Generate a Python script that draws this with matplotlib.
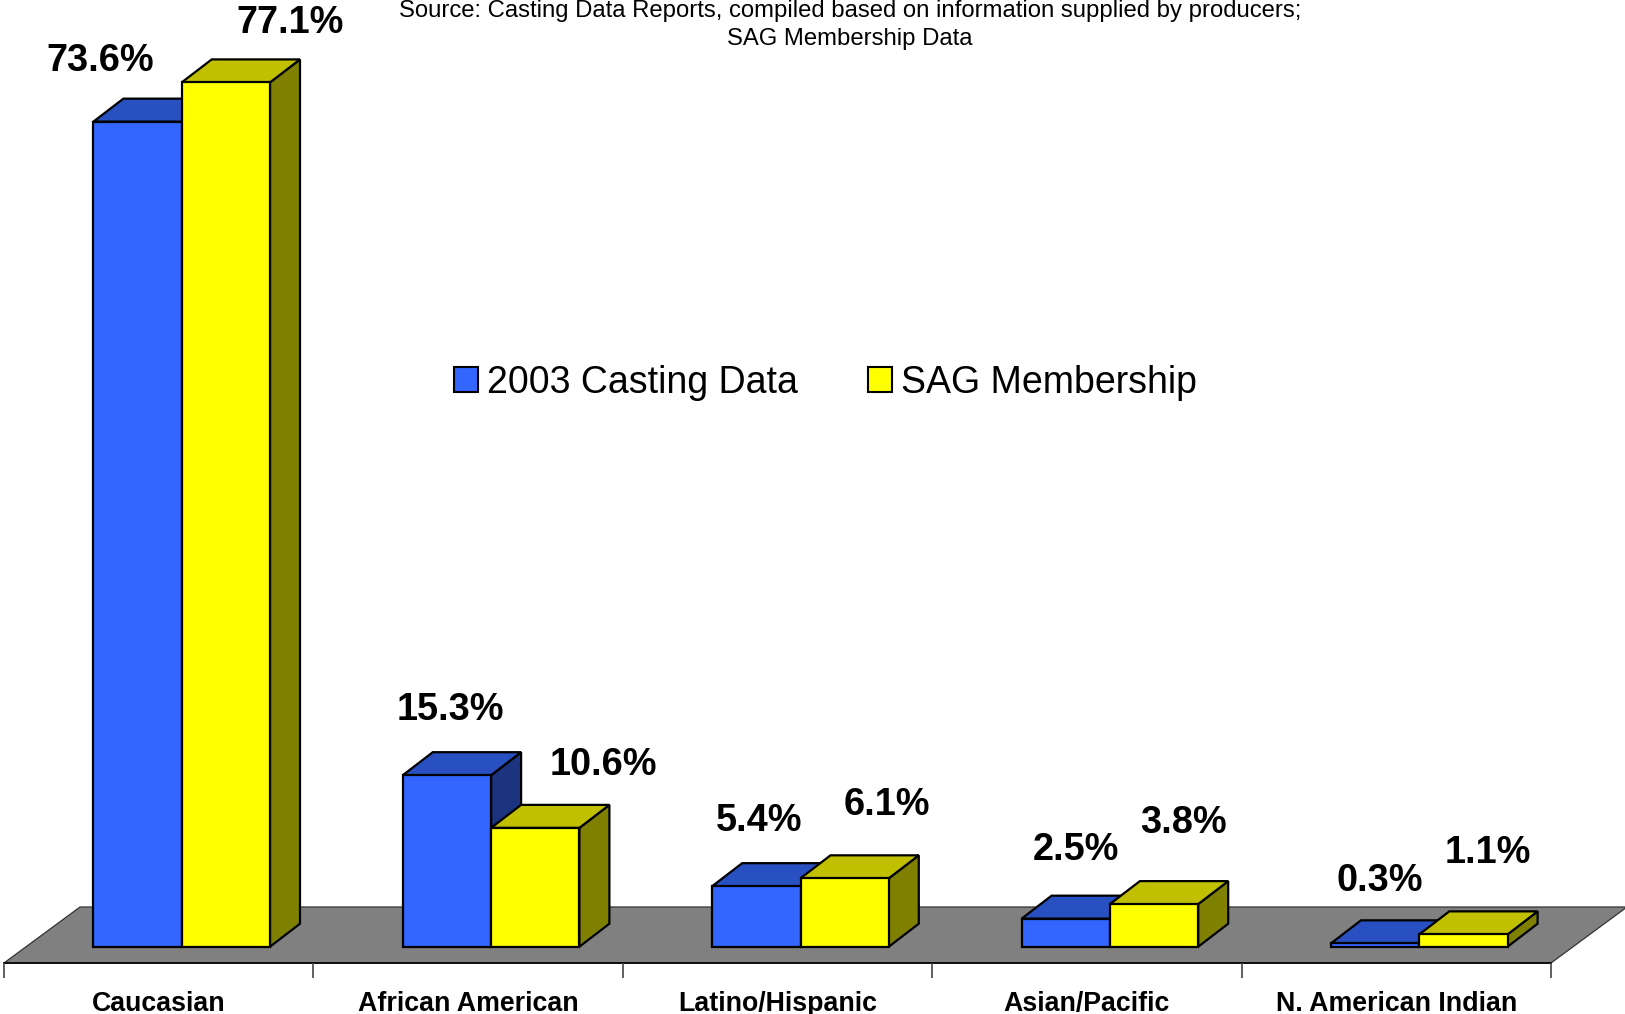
import numpy as np
import matplotlib.pyplot as plt
from matplotlib.patches import Polygon, Patch

categories = ['Caucasian', 'African American', 'Latino/Hispanic', 'Asian/Pacific', 'N. American Indian']
casting_2003 = [73.6, 15.3, 5.4, 2.5, 0.3]
sag_members = [77.1, 10.6, 6.1, 3.8, 1.1]
series_names = ['2003 Casting Data', 'SAG Membership']
source_text = ('Source: Casting Data Reports, compiled based on information supplied by producers;\n'
               'SAG Membership Data')

plt.rcParams['font.family'] = ['Liberation Sans', 'DejaVu Sans']

W, H = 1625, 1014
fig = plt.figure(figsize=(W / 100, H / 100), dpi=100)
ax = fig.add_axes([0, 0, 1, 1])
ax.axis('off')

# pixel geometry of the fake 3d scene
cat_px = 309.4      # px per category
pct_px = 11.21      # px per percent
x0_px = 4           # front left corner of the floor
base_px = 946.7     # bar bottoms, from top
ax.set_xlim(-0.5 - x0_px / cat_px, -0.5 + (W - x0_px) / cat_px)
ax.set_ylim(-(H - base_px) / pct_px, base_px / pct_px)

bar_w = 88.3 / cat_px
bar_dx, bar_dy = 30 / cat_px, 23 / pct_px
floor_dx = 76 / cat_px
floor_front = -16.3 / pct_px
floor_back = 39.7 / pct_px
tick_bot = -31.3 / pct_px
n = len(categories)

# floor
floor = [(-0.5, floor_front), (n - 0.5, floor_front),
         (n - 0.5 + floor_dx, floor_back), (-0.5 + floor_dx, floor_back)]
ax.add_patch(Polygon(floor, closed=True, facecolor='#808080', edgecolor='#333333', lw=0.9))
ax.plot([-0.5, n - 0.5], [floor_front, floor_front], color='black', lw=1.2)
ax.vlines(np.arange(n + 1) - 0.5, tick_bot, floor_front, color='#444444', lw=1.2)


def box(x, h, face, top, side):
    front = [(x, 0), (x + bar_w, 0), (x + bar_w, h), (x, h)]
    topf = [(x, h), (x + bar_w, h), (x + bar_w + bar_dx, h + bar_dy), (x + bar_dx, h + bar_dy)]
    sidef = [(x + bar_w, 0), (x + bar_w + bar_dx, bar_dy), (x + bar_w + bar_dx, h + bar_dy), (x + bar_w, h)]
    for pts, c in ((sidef, side), (topf, top), (front, face)):
        ax.add_patch(Polygon(pts, closed=True, facecolor=c, edgecolor='black',
                             lw=1.6, joinstyle='miter'))


blue = ('#3366FF', '#2850C0', '#1C3480')
yellow = ('#FFFF00', '#C0C000', '#808000')

# label nudges in pixels (x from front centre, y above back top edge)
blue_off = [(-37, 38), (3, 42), (3, 42), (10, 46), (5, 39)]
yellow_off = [(64, 36), (68, 40), (42, 50), (29, 58), (24, 58)]

for i in range(n):
    c = i + floor_dx / 2 - bar_dx / 2
    box(c - bar_w, casting_2003[i], *blue)
    box(c, sag_members[i], *yellow)
    ax.annotate(f'{casting_2003[i]:.1f}%', xy=(c - bar_w / 2, casting_2003[i] + bar_dy),
                xytext=blue_off[i], textcoords='offset pixels', ha='center', va='center',
                fontsize=27.3, fontweight='bold')
    ax.annotate(f'{sag_members[i]:.1f}%', xy=(c + bar_w / 2, sag_members[i] + bar_dy),
                xytext=yellow_off[i], textcoords='offset pixels', ha='center', va='center',
                fontsize=27.3, fontweight='bold')
    ax.text(i, -64.3 / pct_px, categories[i], ha='center', va='baseline',
            fontsize=19.3, fontweight='bold')

fig.text(850 / W, 1 - 25 / H, source_text, ha='center', va='center',
         fontsize=17.2, linespacing=1.38)

handles = [Patch(facecolor=blue[0], edgecolor='black', lw=1.5),
           Patch(facecolor=yellow[0], edgecolor='black', lw=1.5)]
fig.legend(handles, series_names, loc='center left', bbox_to_anchor=(454 / W, 1 - 383 / H),
           ncol=2, frameon=False, fontsize=27, handlelength=0.64, handleheight=0.64,
           handletextpad=0.25, columnspacing=1.85, borderpad=0, borderaxespad=0)

fig.savefig('out.png', dpi=100)
